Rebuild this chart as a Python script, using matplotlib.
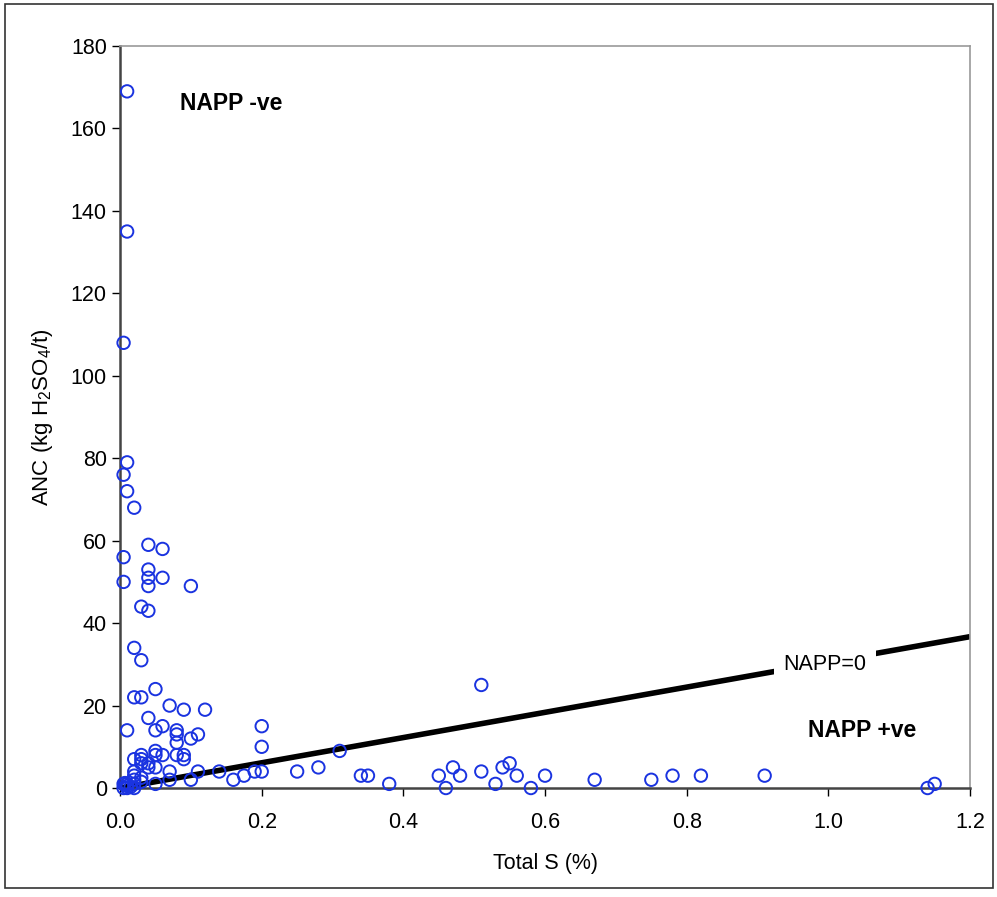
import matplotlib.pyplot as plt
import numpy as np
from matplotlib.patches import Rectangle

plt.rcParams['font.family'] = ['Liberation Sans', 'DejaVu Sans']
plt.rcParams['mathtext.default'] = 'regular'

# Total S (%) and ANC (kg H2SO4/t)
total_s = [
    0.01, 0.01, 0.005, 0.01, 0.005, 0.01, 0.02, 0.005, 0.005,
    0.04, 0.06, 0.04, 0.04, 0.06, 0.10, 0.04, 0.03, 0.04,
    0.02, 0.03, 0.05, 0.02, 0.03, 0.07, 0.09, 0.12, 0.04,
    0.06, 0.01, 0.05, 0.08, 0.08, 0.11, 0.10, 0.08,
    0.02, 0.03, 0.03, 0.03, 0.05, 0.05, 0.06, 0.08, 0.09, 0.09,
    0.04, 0.04, 0.05, 0.02, 0.02, 0.07, 0.11, 0.14,
    0.07, 0.10, 0.16, 0.175, 0.19, 0.20, 0.20, 0.20,
    0.05, 0.03, 0.03, 0.02,
    0.005, 0.007, 0.01, 0.01, 0.015, 0.02, 0.02, 0.01, 0.005,
    0.25, 0.28, 0.31, 0.34, 0.35, 0.38, 0.45, 0.46, 0.47, 0.48,
    0.51, 0.51, 0.53, 0.54, 0.55, 0.56, 0.58, 0.60,
    0.67, 0.75, 0.78, 0.82, 0.91, 1.14, 1.15,
]
anc = [
    169, 135, 108, 79, 76, 72, 68, 56, 50,
    59, 58, 53, 51, 51, 49, 49, 44, 43,
    34, 31, 24, 22, 22, 20, 19, 19, 17,
    15, 14, 14, 14, 13, 13, 12, 11,
    7, 8, 7, 6, 9, 8, 8, 8, 8, 7,
    6, 5, 5, 4, 3, 4, 4, 4,
    2, 2, 2, 3, 4, 4, 15, 10,
    1, 2.5, 1.5, 2,
    0, 1.2, 0, 1, 0.3, 0, 1, 0.5, 1,
    4, 5, 9, 3, 3, 1, 3, 0, 5, 3,
    25, 4, 1, 5, 6, 3, 0, 3,
    2, 2, 3, 3, 3, 0, 1,
]

# NAPP = 0 line: ANC = 30.6 * S
line_s = np.array([0.0, 1.2])
line_anc = 30.6 * line_s

fig = plt.figure(figsize=(9.97, 8.97), dpi=100)
ax = fig.add_axes([0.1204, 0.1215, 0.8526, 0.8272])

ax.plot(line_s, line_anc, color='black', lw=4, zorder=2, solid_capstyle='butt')
ax.scatter(total_s, anc, s=80, facecolors='none', edgecolors='#1a33e0',
           linewidths=1.4, zorder=3, clip_on=False)

ax.text(0.995, 30, 'NAPP=0', fontsize=15.5, ha='center', va='center', zorder=4,
        bbox=dict(facecolor='white', edgecolor='none', pad=7))
ax.text(0.085, 166, 'NAPP -ve', fontsize=16.5, fontweight='bold', ha='left', va='center')
ax.text(1.048, 14, 'NAPP +ve', fontsize=16.5, fontweight='bold', ha='center', va='center')

ax.set_xlim(0, 1.2)
ax.set_ylim(0, 180)
ax.set_xticks(np.arange(0, 1.21, 0.2))
ax.set_xticklabels(['%.1f' % v for v in np.arange(0, 1.21, 0.2)])
ax.set_yticks(np.arange(0, 181, 20))
ax.tick_params(direction='out', length=6, width=1, labelsize=15.5, colors='black')
ax.tick_params(axis='x', pad=11)
ax.set_xlabel('Total S (%)', fontsize=15.5, labelpad=15)
ax.set_ylabel('ANC (kg H$_2$SO$_4$/t)', fontsize=16, labelpad=11)

for side in ['left', 'bottom']:
    ax.spines[side].set_color('#444444')
    ax.spines[side].set_linewidth(1.8)
for side in ['top', 'right']:
    ax.spines[side].set_color('#999999')
    ax.spines[side].set_linewidth(1.2)

fig.patches.append(Rectangle((0.005, 0.01), 0.991, 0.9855, transform=fig.transFigure,
                             fill=False, edgecolor='#333333', lw=1.2))

fig.savefig('out.png', dpi=100)
plt.close(fig)
